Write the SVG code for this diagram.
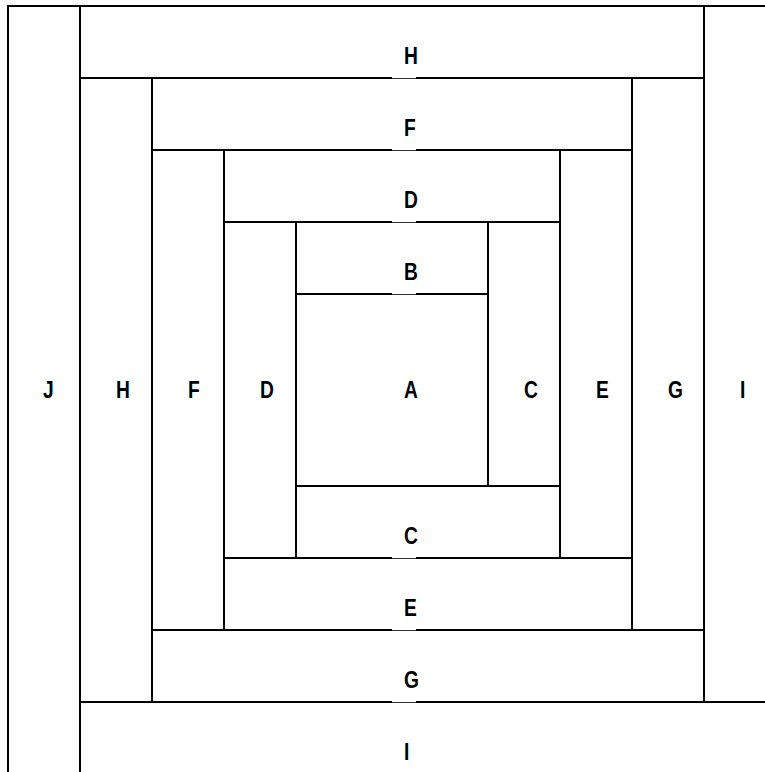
<svg xmlns="http://www.w3.org/2000/svg" width="765" height="772" viewBox="0 0 765 772">
<style>
.piece{fill:none;stroke:#000;stroke-width:2}
.lbl{font-family:"Liberation Sans",Arial,sans-serif;font-weight:bold;font-size:24px;fill:#000}
.gap{fill:#fff}
</style>
<rect x="0" y="0" width="765" height="772" fill="#fff"/>
<g id="node-A"><rect class="piece" x="296" y="294" width="192" height="192"/><text class="lbl" transform="translate(404 398) scale(0.8 1)">A</text></g>
<g id="node-B"><rect class="piece" x="296" y="222" width="192" height="72"/><text class="lbl" transform="translate(404 280) scale(0.8 1)">B</text></g>
<g id="node-C"><rect class="piece" x="488" y="222" width="72" height="264"/><rect class="piece" x="296" y="486" width="264" height="72"/><text class="lbl" transform="translate(524 398) scale(0.8 1)">C</text><text class="lbl" transform="translate(404 544) scale(0.8 1)">C</text></g>
<g id="node-D"><rect class="piece" x="224" y="150" width="336" height="72"/><rect class="piece" x="224" y="222" width="72" height="336"/><text class="lbl" transform="translate(404 208) scale(0.8 1)">D</text><text class="lbl" transform="translate(260 398) scale(0.8 1)">D</text></g>
<g id="node-E"><rect class="piece" x="560" y="150" width="72" height="408"/><rect class="piece" x="224" y="558" width="408" height="72"/><text class="lbl" transform="translate(596 398) scale(0.8 1)">E</text><text class="lbl" transform="translate(404 616) scale(0.8 1)">E</text></g>
<g id="node-F"><rect class="piece" x="152" y="78" width="480" height="72"/><rect class="piece" x="152" y="150" width="72" height="480"/><text class="lbl" transform="translate(404 136) scale(0.8 1)">F</text><text class="lbl" transform="translate(188 398) scale(0.8 1)">F</text></g>
<g id="node-G"><rect class="piece" x="632" y="78" width="72" height="552"/><rect class="piece" x="152" y="630" width="552" height="72"/><text class="lbl" transform="translate(668 398) scale(0.8 1)">G</text><text class="lbl" transform="translate(404 688) scale(0.8 1)">G</text></g>
<g id="node-H"><rect class="piece" x="80" y="6" width="624" height="72"/><rect class="piece" x="80" y="78" width="72" height="624"/><text class="lbl" transform="translate(404 64) scale(0.8 1)">H</text><text class="lbl" transform="translate(116 398) scale(0.8 1)">H</text></g>
<g id="node-I"><rect class="piece" x="704" y="6" width="72" height="696"/><rect class="piece" x="80" y="702" width="696" height="72"/><text class="lbl" transform="translate(740 398) scale(0.8 1)">I</text><text class="lbl" transform="translate(404 760) scale(0.8 1)">I</text></g>
<g id="node-J"><rect class="piece" x="8" y="6" width="72" height="768"/><text class="lbl" transform="translate(43 398) scale(0.8 1)">J</text></g>
<g id="label-gaps">
<rect class="gap" x="392" y="76.8" width="24" height="1.4"/>
<rect class="gap" x="392" y="148.8" width="24" height="1.4"/>
<rect class="gap" x="392" y="220.8" width="24" height="1.4"/>
<rect class="gap" x="392" y="292.8" width="24" height="1.4"/>
<rect class="gap" x="392" y="556.8" width="24" height="1.4"/>
<rect class="gap" x="392" y="628.8" width="24" height="1.4"/>
<rect class="gap" x="392" y="700.8" width="24" height="1.4"/>
</g>
</svg>
